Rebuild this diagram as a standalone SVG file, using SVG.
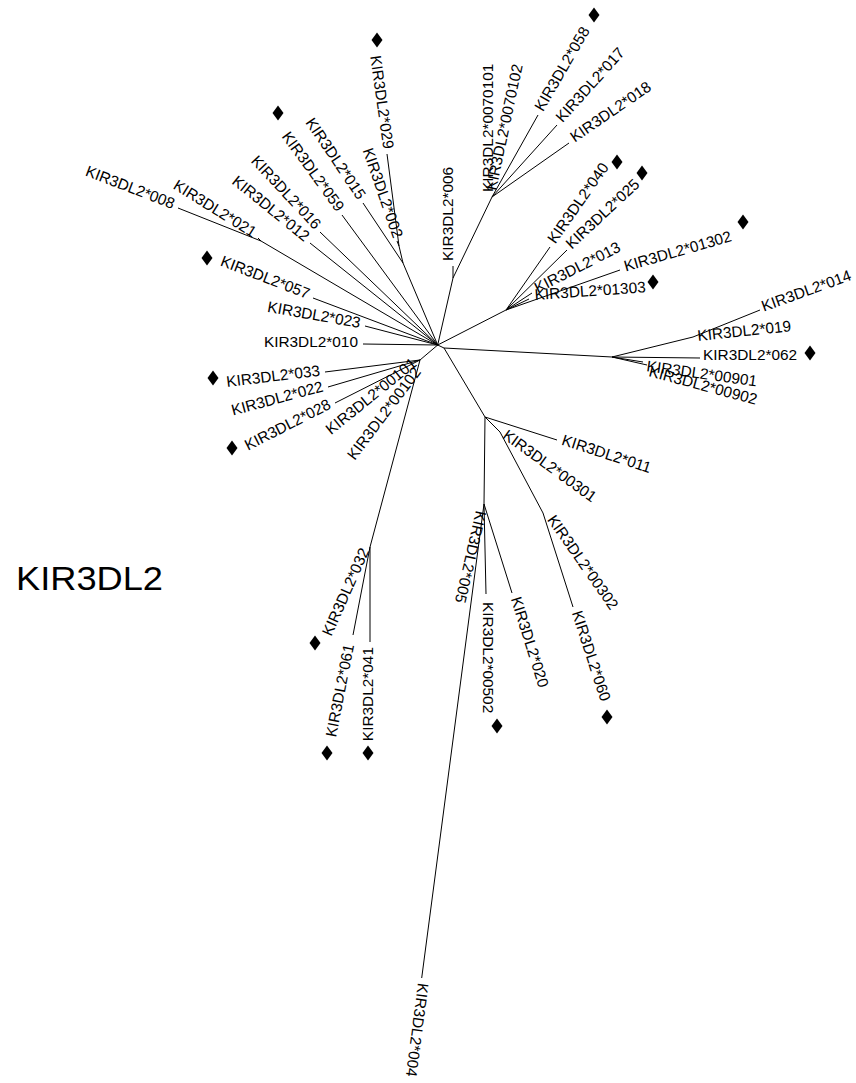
<svg xmlns="http://www.w3.org/2000/svg" xmlns:xlink="http://www.w3.org/1999/xlink" width="856" height="1083" viewBox="0 0 856 1083">
<style>
.e line{stroke:#000;stroke-width:1;fill:none}
text{font-family:"Liberation Sans",Arial,sans-serif;font-size:15.4px;fill:#000}
.L{text-anchor:end}
.R{text-anchor:start}
.big{font-size:34px}
</style>
<defs><path id="dia" d="M0,-7.5L5.5,0L0,7.5L-5.5,0Z" fill="#000"/></defs>
<rect width="856" height="1083" fill="#fff"/>
<g id="connectors" class="e">
<line x1="437.7" y1="345" x2="444" y2="348"/>
<line x1="437.7" y1="345" x2="363" y2="344"/>
<line x1="437.7" y1="345" x2="365" y2="326"/>
<line x1="437.7" y1="345" x2="313" y2="298"/>
<line x1="437.7" y1="345" x2="261" y2="241"/>
<line x1="261" y1="241" x2="178" y2="208"/>
<line x1="261" y1="241" x2="258" y2="238"/>
<line x1="437.7" y1="345" x2="310" y2="243"/>
<line x1="437.7" y1="345" x2="320" y2="232"/>
<line x1="437.7" y1="345" x2="342" y2="215"/>
<line x1="437.7" y1="345" x2="403" y2="263"/>
<line x1="403" y1="263" x2="363" y2="203"/>
<line x1="403" y1="263" x2="399" y2="246"/>
<line x1="399" y1="246" x2="387" y2="154"/>
<line x1="399" y1="246" x2="397" y2="241"/>
<line x1="437.7" y1="345" x2="453" y2="278"/>
<line x1="453" y1="278" x2="453" y2="266"/>
<line x1="453" y1="278" x2="492" y2="197"/>
<line x1="492" y1="197" x2="538" y2="115"/>
<line x1="492" y1="197" x2="557" y2="125"/>
<line x1="492" y1="197" x2="569" y2="143"/>
<line x1="437.7" y1="345" x2="506" y2="310"/>
<line x1="506" y1="310" x2="550" y2="247"/>
<line x1="506" y1="310" x2="567" y2="250"/>
<line x1="506" y1="310" x2="532" y2="293"/>
<line x1="506" y1="310" x2="620" y2="270"/>
<line x1="506" y1="310" x2="529" y2="299"/>
<line x1="444" y1="348" x2="612" y2="357"/>
<line x1="612" y1="357" x2="693" y2="337"/>
<line x1="693" y1="337" x2="760" y2="310"/>
<line x1="612" y1="357" x2="700" y2="358"/>
<line x1="612" y1="357" x2="643" y2="362"/>
<line x1="612" y1="357" x2="647" y2="365"/>
<line x1="444" y1="348" x2="485" y2="417"/>
<line x1="485" y1="417" x2="557" y2="440"/>
<line x1="485" y1="417" x2="500" y2="432"/>
<line x1="500" y1="432" x2="543" y2="513"/>
<line x1="543" y1="513" x2="573" y2="607"/>
<line x1="485" y1="417" x2="484" y2="504"/>
<line x1="484" y1="504" x2="512" y2="593"/>
<line x1="484" y1="504" x2="486" y2="594"/>
<line x1="484" y1="504" x2="421.7" y2="978"/>
<line x1="437.7" y1="345" x2="420" y2="360"/>
<line x1="420" y1="360" x2="325" y2="372"/>
<line x1="420" y1="360" x2="328" y2="387"/>
<line x1="420" y1="360" x2="335" y2="403"/>
<line x1="420" y1="360" x2="370" y2="547"/>
<line x1="370" y1="547" x2="353" y2="635"/>
<line x1="370" y1="547" x2="370" y2="642"/>
</g>
<g id="n-010"><text class="L" transform="translate(363,344)" x="-5" y="3">KIR3DL2*010</text></g>
<g id="n-023"><text class="L" transform="translate(365,326) rotate(10)" x="-5" y="3">KIR3DL2*023</text></g>
<g id="n-057"><text class="L" transform="translate(313,298) rotate(21)" x="-5" y="3">KIR3DL2*057</text><use href="#dia" x="207" y="258"/></g>
<g id="n-008"><text class="L" transform="translate(178,208) rotate(21)" x="-5" y="3">KIR3DL2*008</text></g>
<g id="n-021"><text class="L" transform="translate(258,238) rotate(32)" x="-5" y="3">KIR3DL2*021</text></g>
<g id="n-012"><text class="L" transform="translate(310,243) rotate(39)" x="-5" y="3">KIR3DL2*012</text></g>
<g id="n-016"><text class="L" transform="translate(320,232) rotate(47)" x="-5" y="3">KIR3DL2*016</text></g>
<g id="n-059"><text class="L" transform="translate(342,215) rotate(54)" x="-5" y="3">KIR3DL2*059</text><use href="#dia" x="278" y="113"/></g>
<g id="n-015"><text class="L" transform="translate(363,203) rotate(56)" x="-5" y="3">KIR3DL2*015</text></g>
<g id="n-029"><text class="L" transform="translate(387,154) rotate(82)" x="-5" y="3">KIR3DL2*029</text><use href="#dia" x="377" y="40"/></g>
<g id="n-002"><text class="L" transform="translate(397,241) rotate(71)" x="-3" y="3">KIR3DL2*002</text></g>
<g id="n-033"><text class="L" transform="translate(325,372) rotate(-7)" x="-5" y="3">KIR3DL2*033</text><use href="#dia" x="213" y="378"/></g>
<g id="n-022"><text class="L" transform="translate(328,387) rotate(-15)" x="-5" y="3">KIR3DL2*022</text></g>
<g id="n-028"><text class="L" transform="translate(335,403) rotate(-27)" x="-5" y="3">KIR3DL2*028</text><use href="#dia" x="232" y="448"/></g>
<g id="n-00101"><text class="L" transform="translate(418,361) rotate(-39)" x="-3" y="3">KIR3DL2*00101</text></g>
<g id="n-00102"><text class="L" transform="translate(421,368) rotate(-53)" x="-3" y="3">KIR3DL2*00102</text></g>
<g id="n-032"><text class="L" transform="translate(368,547) rotate(-66)" x="-3" y="3">KIR3DL2*032</text><use href="#dia" x="315" y="643"/></g>
<g id="n-061"><text class="L" transform="translate(353,635) rotate(-79)" x="-10" y="3">KIR3DL2*061</text><use href="#dia" x="327" y="753"/></g>
<g id="n-041"><text class="L" transform="translate(370,642) rotate(-90)" x="-5" y="3">KIR3DL2*041</text><use href="#dia" x="368" y="753"/></g>
<g id="n-006"><text class="R" transform="translate(453,261) rotate(-90)">KIR3DL2*006</text></g>
<g id="n-0070101"><text class="R" transform="translate(492.5,192) rotate(-90)">KIR3DL2*0070101</text></g>
<g id="n-0070102"><text class="R" transform="translate(496,191) rotate(-78)">KIR3DL2*0070102</text></g>
<g id="n-058"><text class="R" transform="translate(538,115) rotate(-60)" x="5" y="3">KIR3DL2*058</text><use href="#dia" x="594" y="15"/></g>
<g id="n-017"><text class="R" transform="translate(557,125) rotate(-48)" x="5" y="3">KIR3DL2*017</text></g>
<g id="n-018"><text class="R" transform="translate(569,143) rotate(-34.5)" x="5" y="3">KIR3DL2*018</text></g>
<g id="n-040"><text class="R" transform="translate(550,247) rotate(-55)" x="5" y="3">KIR3DL2*040</text><use href="#dia" x="617" y="162"/></g>
<g id="n-025"><text class="R" transform="translate(566,251) rotate(-43)" x="5" y="3">KIR3DL2*025</text><use href="#dia" x="642" y="173"/></g>
<g id="n-013"><text class="R" transform="translate(532,293) rotate(-27)" x="5" y="3">KIR3DL2*013</text></g>
<g id="n-01302"><text class="R" transform="translate(620,270) rotate(-16)" x="5" y="3">KIR3DL2*01302</text><use href="#dia" x="743" y="222"/></g>
<g id="n-01303"><text class="R" transform="translate(535,300) rotate(-4)">KIR3DL2*01303</text><use href="#dia" x="653" y="282"/></g>
<g id="n-014"><text class="R" transform="translate(760,310) rotate(-20)" x="3" y="3">KIR3DL2*014</text></g>
<g id="n-019"><text class="R" transform="translate(698,341) rotate(-6)">KIR3DL2*019</text></g>
<g id="n-062"><text class="R" transform="translate(703,360)">KIR3DL2*062</text><use href="#dia" x="810" y="353"/></g>
<g id="n-00901"><text class="R" transform="translate(646,371) rotate(8)">KIR3DL2*00901</text></g>
<g id="n-00902"><text class="R" transform="translate(648,376) rotate(15)">KIR3DL2*00902</text></g>
<g id="n-011"><text class="R" transform="translate(557,440) rotate(18)" x="5" y="3">KIR3DL2*011</text></g>
<g id="n-00301"><text class="R" transform="translate(501.7,437.4) rotate(36)">KIR3DL2*00301</text></g>
<g id="n-00302"><text class="R" transform="translate(546.7,519.7) rotate(55)">KIR3DL2*00302</text></g>
<g id="n-060"><text class="R" transform="translate(573,607) rotate(72)" x="5" y="3">KIR3DL2*060</text><use href="#dia" x="607" y="717"/></g>
<g id="n-020"><text class="R" transform="translate(512,593) rotate(72.5)" x="5" y="3">KIR3DL2*020</text></g>
<g id="n-00502"><text class="R" transform="translate(486,594) rotate(90)" x="8" y="3">KIR3DL2*00502</text><use href="#dia" x="497" y="726"/></g>
<g id="n-005"><text class="R" transform="translate(476,510) rotate(103)">KIR3DL2*005</text></g>
<g id="n-004"><text class="R" transform="translate(421.7,978) rotate(97.5)" x="5" y="3">KIR3DL2*004</text></g>
<g id="title"><text class="big" x="16" y="590" textLength="147" lengthAdjust="spacingAndGlyphs">KIR3DL2</text></g>
</svg>
